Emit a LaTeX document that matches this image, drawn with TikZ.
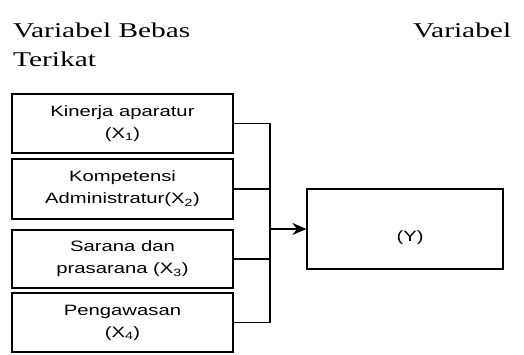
\documentclass[tikz,border=0pt]{standalone}
\usepackage{fontspec}
\setmainfont{Liberation Serif}[FakeStretch=1.4]
\newfontfamily\boxfont{Liberation Sans}[FakeStretch=1.35]
\usetikzlibrary{arrows.meta}

\begin{document}
\begin{tikzpicture}[x=1pt,y=-1pt,
  varbox/.style={draw, line width=1.2pt, minimum width=221pt, inner sep=0pt,
    align=center, font=\boxfont\fontsize{15}{22}\selectfont},
  head/.style={anchor=base west, inner sep=0pt, font=\fontsize{21}{25}\selectfont},
  link/.style={line width=1.2pt},
]
\useasboundingbox (0,0) rectangle (524,354);

% headings
\node[head] (h1) at (13,37) {Variabel Bebas};
\node[head] (h2) at (413,37) {Variabel};
\node[head] (h3) at (13,66) {Terikat};

% independent variables
\node[varbox, minimum height=59pt] (b1) at (122.5,123.5) {Kinerja aparatur\\(X\textsubscript{1})};
\node[varbox, minimum height=60pt] (b2) at (122.5,189) {Kompetensi\\Administratur(X\textsubscript{2})};
\node[varbox, minimum height=58pt] (b3) at (122.5,259) {Sarana dan\\prasarana (X\textsubscript{3})};
\node[varbox, minimum height=59pt] (b4) at (122.5,322.5) {Pengawasan\\(X\textsubscript{4})};

% dependent variable
\node[draw, line width=1.2pt, minimum width=196pt, minimum height=80pt, inner sep=0pt] (yb) at (405,229) {};
\node[font=\boxfont\fontsize{15}{18}\selectfont, inner sep=0pt] (yt) at (410,238) {(Y)};

% bracket joining the four boxes
\coordinate (brk) at (270,0);
\draw[link] (b1.east) -- (b1.east -| brk) -- (b4.east -| brk) -- (b4.east);
\draw[link] (b2.east) -- (b2.east -| brk);
\draw[link] (b3.east) -- (b3.east -| brk);
\draw[link, -{Stealth[length=14pt,width=12pt]}] (yb.west -| brk) -- (yb.west);
\end{tikzpicture}
\end{document}
